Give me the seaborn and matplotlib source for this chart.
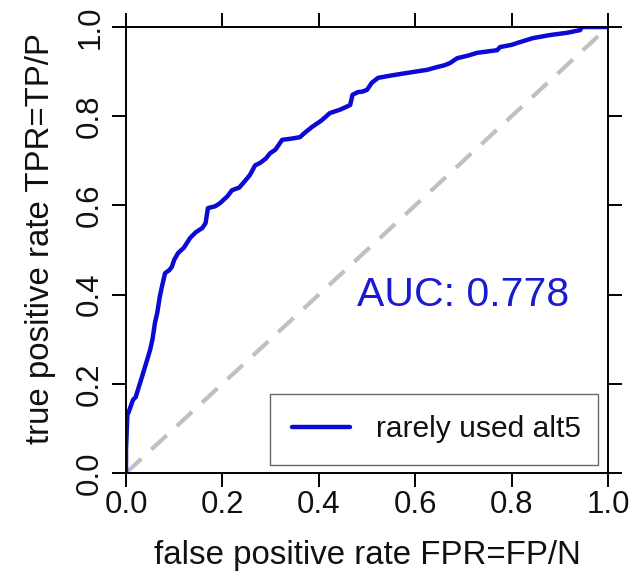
import matplotlib
matplotlib.use("Agg")
import matplotlib.pyplot as plt
import seaborn as sns
import pandas as pd

# ROC curve points
fpr = [0.0, 0.0, 0.003, 0.005, 0.0145, 0.02, 0.033, 0.04, 0.05, 0.055, 0.06, 0.065, 0.07,
       0.075, 0.081, 0.09, 0.095, 0.1, 0.108, 0.12, 0.133, 0.145, 0.158, 0.165, 0.17,
       0.185, 0.195, 0.21, 0.22, 0.235, 0.243, 0.257, 0.268, 0.278, 0.29, 0.299, 0.31,
       0.324, 0.345, 0.361, 0.37, 0.386, 0.405, 0.423, 0.445, 0.465, 0.47, 0.481, 0.49,
       0.5, 0.51, 0.523, 0.554, 0.595, 0.625, 0.645, 0.66, 0.672, 0.687, 0.71, 0.728,
       0.77, 0.776, 0.8, 0.817, 0.844, 0.88, 0.915, 0.942, 0.946, 1.0]
tpr = [0.0, 0.052, 0.135, 0.135, 0.164, 0.17, 0.215, 0.24, 0.276, 0.3, 0.336, 0.36, 0.395,
       0.42, 0.448, 0.455, 0.462, 0.478, 0.493, 0.505, 0.527, 0.54, 0.549, 0.56, 0.594,
       0.598, 0.605, 0.62, 0.634, 0.64, 0.650, 0.668, 0.69, 0.695, 0.705, 0.717, 0.725,
       0.747, 0.75, 0.753, 0.762, 0.776, 0.79, 0.807, 0.815, 0.825, 0.848, 0.854, 0.855,
       0.859, 0.875, 0.886, 0.892, 0.899, 0.904, 0.910, 0.914, 0.919, 0.930, 0.936, 0.942,
       0.948, 0.955, 0.96, 0.966, 0.975, 0.982, 0.987, 0.993, 1.0, 1.0]
diag_x = [0.0, 1.0]
diag_y = [0.0, 1.0]
ticks = [0.0, 0.2, 0.4, 0.6, 0.8, 1.0]
tick_labels = ["0.0", "0.2", "0.4", "0.6", "0.8", "1.0"]
series_label = "rarely used alt5"
auc_text = "AUC: 0.778"

sns.set_theme(style="white")
plt.rcParams['font.family'] = ['Liberation Sans', 'DejaVu Sans']

fig = plt.figure(figsize=(6.43, 5.78), dpi=100)
ax = fig.add_axes([126/643, 1 - 473/578, (608-126)/643, (473-27)/578])

df = pd.DataFrame({"fpr": fpr, "tpr": tpr})
ddf = pd.DataFrame({"x": diag_x, "y": diag_y})

sns.lineplot(data=ddf, x="x", y="y", ax=ax, color="#c0c0c0", lw=3,
             dashes=False, linestyle=(0, (5, 3.3)), estimator=None, sort=False,
             legend=False, zorder=1)
sns.lineplot(data=df, x="fpr", y="tpr", ax=ax, color="#0a0ad2", lw=3.2,
             estimator=None, sort=False, label=series_label, zorder=2)

ax.set_xlim(0, 1)
ax.set_ylim(0, 1)
ax.set_xticks(ticks)
ax.set_xticklabels(tick_labels)
ax.set_yticks(ticks)
ax.set_yticklabels(tick_labels, rotation=90, va="center")
ax.tick_params(axis="both", which="both", direction="out", length=10, width=1.4,
               color="black", labelsize=22.5, labelcolor="#111111",
               top=True, right=True, left=True, bottom=True,
               labeltop=False, labelright=False)
ax.tick_params(axis="x", pad=2)
ax.tick_params(axis="y", pad=5)
for s in ax.spines.values():
    s.set_visible(True)
    s.set_color("black")
    s.set_linewidth(1.4)

ax.set_xlabel("false positive rate FPR=FP/N", fontsize=23.8, color="#111111")
ax.set_ylabel("true positive rate TPR=TP/P", fontsize=23.8, color="#111111")
ax.xaxis.set_label_coords(0.5, (473 - 540) / 446)
ax.yaxis.set_label_coords((56 - 126) / 482, (473 - 239) / 446)

ax.text(0.70, 0.399, auc_text, transform=ax.transAxes, ha="center", va="center",
        fontsize=29.5, color="#1a1ad0")

leg = ax.legend(loc="lower left", bbox_to_anchor=(0.299, 0.018, 0.68, 0.161),
                mode="expand", borderaxespad=0, frameon=True, fancybox=False,
                edgecolor="#444444", fontsize=21.6, handlelength=1.93,
                handletextpad=0.87, borderpad=0.72)
leg.get_frame().set_linewidth(1.0)
for t in leg.get_texts():
    t.set_color("#111111")

fig.savefig("out.png", dpi=100, facecolor="white")
